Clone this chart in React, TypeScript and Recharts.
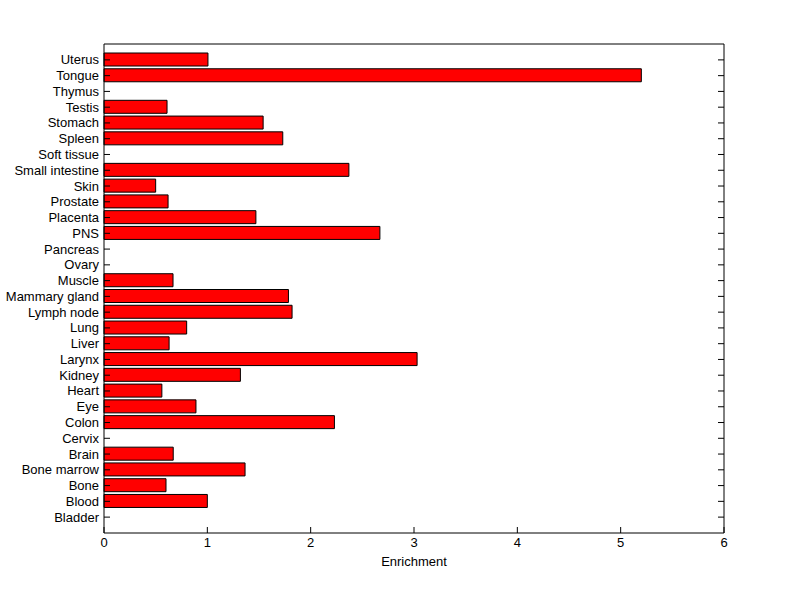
import React from 'react';
import { BarChart, Bar, XAxis, YAxis, Label } from 'recharts';

const tissues = [
  'Uterus', 'Tongue', 'Thymus', 'Testis', 'Stomach', 'Spleen', 'Soft tissue',
  'Small intestine', 'Skin', 'Prostate', 'Placenta', 'PNS', 'Pancreas', 'Ovary',
  'Muscle', 'Mammary gland', 'Lymph node', 'Lung', 'Liver', 'Larynx', 'Kidney',
  'Heart', 'Eye', 'Colon', 'Cervix', 'Brain', 'Bone marrow', 'Bone', 'Blood', 'Bladder',
];
const enrichment = [
  1.006, 5.2, 0, 0.61, 1.54, 1.73, 0,
  2.37, 0.5, 0.62, 1.47, 2.67, 0, 0,
  0.668, 1.785, 1.82, 0.8, 0.63, 3.03, 1.32,
  0.56, 0.89, 2.23, 0, 0.67, 1.365, 0.6, 1.0, 0,
];
const xTicks = [0, 1, 2, 3, 4, 5, 6];

const data = tissues.map((name, i) => ({ name, value: enrichment[i] }));

const FONT = 'Arial, "Liberation Sans", Helvetica, sans-serif';

const LeftTick = (props: any) => {
  const { x, y, payload } = props;
  return (
    <g>
      <text x={x} y={y} dy={4.5} textAnchor="end" fontSize={13} fontFamily={FONT} fill="#000">
        {payload.value}
      </text>
      <line x1={x + 5} y1={y} x2={x + 11} y2={y} stroke="#000" strokeWidth={1} />
    </g>
  );
};

const RightTick = (props: any) => {
  const { x, y } = props;
  return <line x1={x} y1={y} x2={x - 6} y2={y} stroke="#000" strokeWidth={1} />;
};

const BottomTick = (props: any) => {
  const { x, y, payload } = props;
  return (
    <g>
      <text x={x} y={y + 14} textAnchor="middle" fontSize={13} fontFamily={FONT} fill="#000">
        {payload.value}
      </text>
      <line x1={x} y1={y} x2={x} y2={y - 6} stroke="#000" strokeWidth={1} />
    </g>
  );
};

const TopTick = (props: any) => {
  const { x, y } = props;
  return <line x1={x} y1={y} x2={x} y2={y + 6} stroke="#000" strokeWidth={1} />;
};

export default function App() {
  return (
    <div style={{ position: 'absolute', left: 0, top: 0, width: 800, height: 599, background: '#fff' }}>
      <BarChart
        width={800}
        height={599}
        data={data}
        layout="vertical"
        margin={{ top: 44, right: 76, bottom: 42, left: 4 }}
        barCategoryGap={0}
      >
        <XAxis
          xAxisId="bottom"
          type="number"
          domain={[0, 6]}
          ticks={xTicks}
          orientation="bottom"
          height={24}
          tickSize={0}
          tickMargin={0}
          tick={<BottomTick />}
          axisLine={{ stroke: '#000' }}
          tickLine={false}
          interval={0}
        >
          <Label value="Enrichment" position="bottom" offset={0} fontSize={13} fontFamily={FONT} fill="#000" />
        </XAxis>
        <XAxis
          xAxisId="top"
          type="number"
          domain={[0, 6]}
          ticks={xTicks}
          orientation="top"
          mirror
          height={20}
          tickSize={0}
          tickMargin={0}
          tick={<TopTick />}
          axisLine={{ stroke: '#000' }}
          tickLine={false}
          interval={0}
        />
        <YAxis
          yAxisId="left"
          type="category"
          dataKey="name"
          orientation="left"
          width={100}
          padding={{ top: 8, bottom: 8 }}
          tickSize={0}
          tickMargin={5}
          tick={<LeftTick />}
          axisLine={{ stroke: '#000' }}
          tickLine={false}
          interval={0}
        />
        <YAxis
          yAxisId="right"
          type="category"
          dataKey="name"
          orientation="right"
          mirror
          width={20}
          padding={{ top: 8, bottom: 8 }}
          tickSize={0}
          tickMargin={0}
          tick={<RightTick />}
          axisLine={{ stroke: '#000' }}
          tickLine={false}
          interval={0}
        />
        <Bar
          xAxisId="bottom"
          yAxisId="left"
          dataKey="value"
          fill="#ff0000"
          stroke="#000"
          strokeWidth={1}
          barSize={13}
          isAnimationActive={false}
        />
      </BarChart>
    </div>
  );
}
